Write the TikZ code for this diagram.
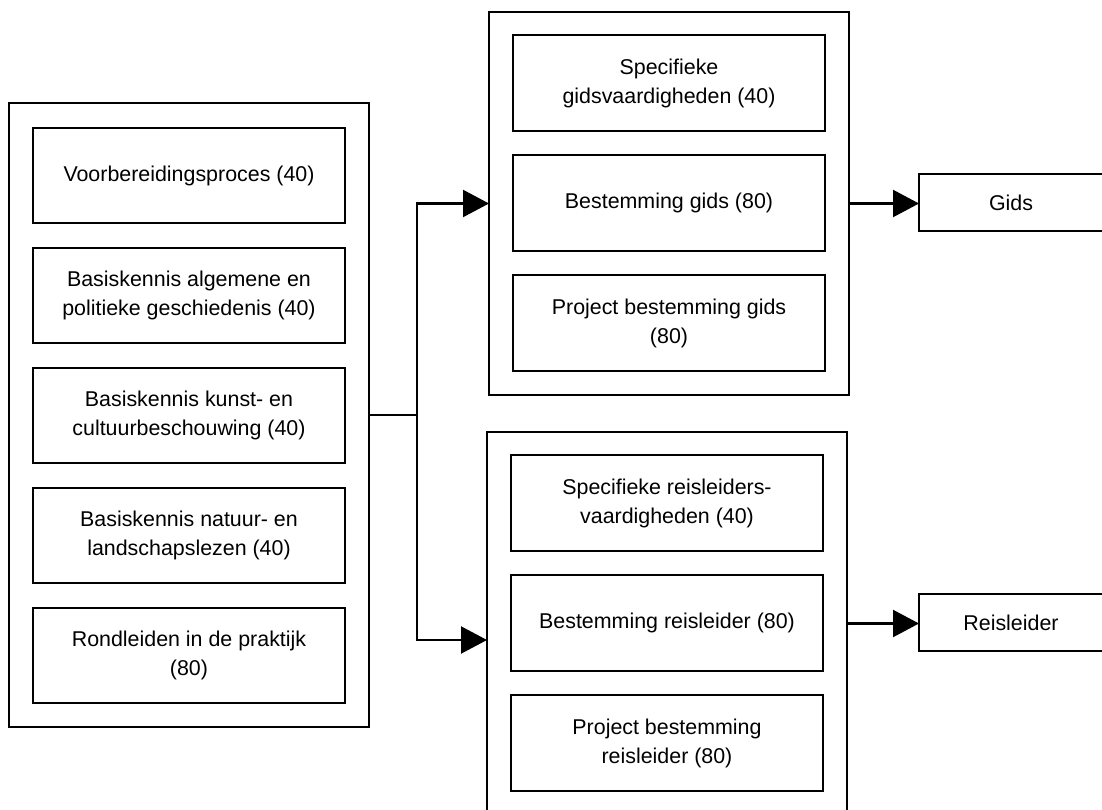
\documentclass[tikz,border=0pt]{standalone}
\usepackage{fontspec}
\setmainfont{Liberation Sans}
\usetikzlibrary{arrows.meta,positioning}
\tikzset{
    block/.style = {
        draw,
        line width=2pt,
        outer sep=0pt,
        inner sep=0pt,
        minimum width=360pt,
        },
    module/.style = {
        draw,
        line width=2pt,
        outer sep=0pt,
        inner sep=0pt,
        minimum width=312pt,
        minimum height=95pt,
        align=center,
        font=\fontsize{21.4}{29}\selectfont,
        },
    result/.style = {
        module,
        minimum width=184pt,
        minimum height=57pt,
        },
    link/.style = {
        line width=2.2pt,
        },
    flow/.style = {
        link,
        -{Triangle[length=26pt,width=27pt]},
        },
}

\begin{document}
\begin{tikzpicture}[x=1pt,y=-1pt]
    \useasboundingbox (0,0) rectangle (1102,810);

    % gemeenschappelijk deel
    \node[block, minimum height=624pt] (basis) at (189,415) {};
    \node[module] (v1) at (189,175.5) {Voorbereidingsproces (40)};
    \node[module, below=25pt of v1] (v2) {Basiskennis algemene en\\politieke geschiedenis (40)};
    \node[module, below=25pt of v2] (v3) {Basiskennis kunst- en\\cultuurbeschouwing (40)};
    \node[module, below=25pt of v3] (v4) {Basiskennis natuur- en\\landschapslezen (40)};
    \node[module, below=25pt of v4] (v5) {Rondleiden in de praktijk\\(80)};

    % uitstroom gids
    \node[block, minimum height=383pt] (gidsblok) at (669,203.5) {};
    \node[module, minimum height=96pt] (g1) at (669,83) {Specifieke\\gidsvaardigheden (40)};
    \node[module, minimum height=96pt, below=24pt of g1] (g2) {Bestemming gids (80)};
    \node[module, minimum height=96pt, below=24pt of g2] (g3) {Project bestemming gids\\(80)};
    \node[result] (gids) at (1011,202.5) {Gids};

    % uitstroom reisleider
    \node[block, minimum height=383pt] (reisblok) at (667,623.5) {};
    \node[module, minimum height=96pt] (r1) at (667,503) {Specifieke reisleiders-\\vaardigheden (40)};
    \node[module, minimum height=96pt, below=24pt of r1] (r2) {Bestemming reisleider (80)};
    \node[module, minimum height=96pt, below=24pt of r2] (r3) {Project bestemming\\reisleider (80)};
    \node[result] (reis) at (1011,622.5) {Reisleider};

    % verbindingen
    \draw[link] (basis.east) -- ++(48,0) coordinate (split);
    \draw[flow] (split) |- (gidsblok.west);
    \draw[flow] (split) |- ([yshift=-16.5pt]reisblok.west);
    \draw[flow] (gidsblok.east) -- (gidsblok.east -| gids.west);
    \draw[flow] (reisblok.east) -- (reisblok.east -| reis.west);
\end{tikzpicture}
\end{document}
